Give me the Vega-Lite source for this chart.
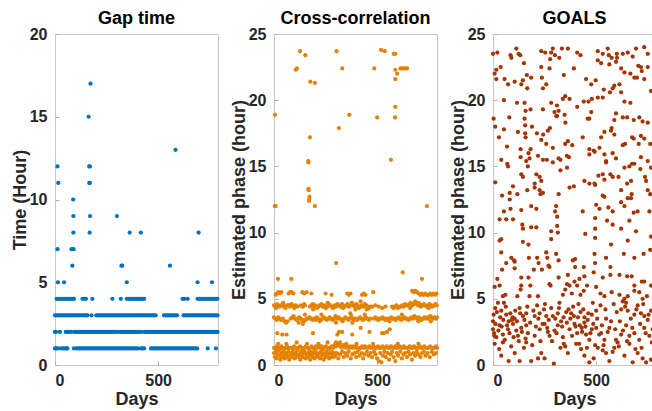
{
"$schema": "https://vega.github.io/schema/vega-lite/v6.json",
"padding": {"left": 10, "top": 9, "right": 0, "bottom": 0},
"bounds": "flush",
"spacing": 56,
"config": {
 "font": "Liberation Sans",
 "view": {"stroke": "#c8c8c8", "strokeWidth": 1},
 "axis": {"domain": false, "grid": false, "ticks": true, "tickSize": -4, "tickColor": "#b0b0b0", "labelFont": "Liberation Sans", "labelFontWeight": "bold", "labelFontSize": 16, "labelColor": "#262626", "titleFont": "Liberation Sans", "titleFontSize": 18, "titleFontWeight": "bold", "titleColor": "#262626", "labelPadding": 12, "titlePadding": 0},
 "axisX": {"labelPadding": 11, "titlePadding": 2},
 "title": {"font": "Liberation Sans", "fontSize": 18, "fontWeight": "bold", "color": "#000000", "offset": -2}
},
"datasets": {
"gap": [
{"x":8,"y":4},{"x":16,"y":4},{"x":24,"y":4},{"x":32,"y":4},{"x":40,"y":4},{"x":48,"y":4},{"x":56,"y":4},{"x":64,"y":4},{"x":72,"y":4},{"x":80,"y":4},{"x":88,"y":4},{"x":92,"y":4},{"x":133,"y":4},{"x":141,"y":4},{"x":150,"y":4},{"x":181,"y":4},{"x":278,"y":4},{"x":319,"y":4},{"x":348,"y":4},{"x":356,"y":4},{"x":364,"y":4},{"x":372,"y":4},{"x":380,"y":4},{"x":388,"y":4},{"x":396,"y":4},{"x":404,"y":4},{"x":412,"y":4},{"x":420,"y":4},{"x":428,"y":4},{"x":432,"y":4},{"x":618,"y":4},{"x":626,"y":4},{"x":643,"y":4},{"x":691,"y":4},{"x":699,"y":4},{"x":707,"y":4},{"x":715,"y":4},{"x":723,"y":4},{"x":731,"y":4},{"x":739,"y":4},{"x":747,"y":4},{"x":755,"y":4},{"x":763,"y":4},{"x":771,"y":4},{"x":779,"y":4},{"x":787,"y":4},
{"x":0,"y":3},{"x":8,"y":3},{"x":16,"y":3},{"x":24,"y":3},{"x":32,"y":3},{"x":40,"y":3},{"x":48,"y":3},{"x":56,"y":3},{"x":64,"y":3},{"x":72,"y":3},{"x":80,"y":3},{"x":88,"y":3},{"x":96,"y":3},{"x":104,"y":3},{"x":112,"y":3},{"x":120,"y":3},{"x":128,"y":3},{"x":136,"y":3},{"x":144,"y":3},{"x":152,"y":3},{"x":157,"y":3},{"x":177,"y":3},{"x":200,"y":3},{"x":208,"y":3},{"x":216,"y":3},{"x":224,"y":3},{"x":232,"y":3},{"x":240,"y":3},{"x":248,"y":3},{"x":256,"y":3},{"x":264,"y":3},{"x":272,"y":3},{"x":280,"y":3},{"x":288,"y":3},{"x":296,"y":3},{"x":304,"y":3},{"x":312,"y":3},{"x":320,"y":3},{"x":328,"y":3},{"x":336,"y":3},{"x":344,"y":3},{"x":352,"y":3},{"x":360,"y":3},{"x":368,"y":3},{"x":376,"y":3},{"x":384,"y":3},{"x":392,"y":3},{"x":400,"y":3},{"x":408,"y":3},{"x":416,"y":3},{"x":424,"y":3},{"x":432,"y":3},{"x":440,"y":3},{"x":448,"y":3},{"x":456,"y":3},{"x":464,"y":3},{"x":472,"y":3},{"x":480,"y":3},{"x":488,"y":3},{"x":528,"y":3},{"x":536,"y":3},{"x":544,"y":3},{"x":552,"y":3},{"x":560,"y":3},{"x":568,"y":3},{"x":576,"y":3},{"x":584,"y":3},{"x":592,"y":3},{"x":623,"y":3},{"x":631,"y":3},{"x":639,"y":3},{"x":647,"y":3},{"x":655,"y":3},{"x":663,"y":3},{"x":671,"y":3},{"x":679,"y":3},{"x":687,"y":3},{"x":695,"y":3},{"x":703,"y":3},{"x":711,"y":3},{"x":719,"y":3},{"x":727,"y":3},{"x":735,"y":3},{"x":743,"y":3},{"x":751,"y":3},{"x":759,"y":3},{"x":767,"y":3},{"x":775,"y":3},{"x":783,"y":3},{"x":788,"y":3},
{"x":0,"y":2},{"x":5,"y":2},{"x":24,"y":2},{"x":52,"y":2},{"x":60,"y":2},{"x":68,"y":2},{"x":76,"y":2},{"x":92,"y":2},{"x":100,"y":2},{"x":108,"y":2},{"x":116,"y":2},{"x":124,"y":2},{"x":132,"y":2},{"x":140,"y":2},{"x":148,"y":2},{"x":156,"y":2},{"x":164,"y":2},{"x":172,"y":2},{"x":180,"y":2},{"x":188,"y":2},{"x":196,"y":2},{"x":204,"y":2},{"x":212,"y":2},{"x":220,"y":2},{"x":228,"y":2},{"x":236,"y":2},{"x":244,"y":2},{"x":252,"y":2},{"x":260,"y":2},{"x":268,"y":2},{"x":276,"y":2},{"x":284,"y":2},{"x":292,"y":2},{"x":300,"y":2},{"x":314,"y":2},{"x":322,"y":2},{"x":330,"y":2},{"x":338,"y":2},{"x":346,"y":2},{"x":354,"y":2},{"x":362,"y":2},{"x":370,"y":2},{"x":378,"y":2},{"x":386,"y":2},{"x":394,"y":2},{"x":402,"y":2},{"x":410,"y":2},{"x":416,"y":2},{"x":432,"y":2},{"x":440,"y":2},{"x":448,"y":2},{"x":456,"y":2},{"x":464,"y":2},{"x":472,"y":2},{"x":480,"y":2},{"x":488,"y":2},{"x":496,"y":2},{"x":504,"y":2},{"x":512,"y":2},{"x":520,"y":2},{"x":528,"y":2},{"x":536,"y":2},{"x":544,"y":2},{"x":552,"y":2},{"x":560,"y":2},{"x":568,"y":2},{"x":576,"y":2},{"x":584,"y":2},{"x":592,"y":2},{"x":600,"y":2},{"x":608,"y":2},{"x":616,"y":2},{"x":624,"y":2},{"x":632,"y":2},{"x":640,"y":2},{"x":648,"y":2},{"x":656,"y":2},{"x":664,"y":2},{"x":672,"y":2},{"x":680,"y":2},{"x":688,"y":2},{"x":696,"y":2},{"x":704,"y":2},{"x":712,"y":2},{"x":720,"y":2},{"x":728,"y":2},{"x":736,"y":2},{"x":744,"y":2},{"x":752,"y":2},{"x":760,"y":2},{"x":768,"y":2},{"x":776,"y":2},{"x":784,"y":2},{"x":788,"y":2},
{"x":0,"y":1},{"x":8,"y":1},{"x":15,"y":1},{"x":31,"y":1},{"x":39,"y":1},{"x":47,"y":1},{"x":55,"y":1},{"x":60,"y":1},{"x":92,"y":1},{"x":105,"y":1},{"x":113,"y":1},{"x":121,"y":1},{"x":129,"y":1},{"x":137,"y":1},{"x":145,"y":1},{"x":153,"y":1},{"x":161,"y":1},{"x":169,"y":1},{"x":177,"y":1},{"x":185,"y":1},{"x":193,"y":1},{"x":201,"y":1},{"x":209,"y":1},{"x":217,"y":1},{"x":225,"y":1},{"x":233,"y":1},{"x":241,"y":1},{"x":249,"y":1},{"x":257,"y":1},{"x":265,"y":1},{"x":273,"y":1},{"x":281,"y":1},{"x":289,"y":1},{"x":297,"y":1},{"x":305,"y":1},{"x":313,"y":1},{"x":321,"y":1},{"x":329,"y":1},{"x":337,"y":1},{"x":345,"y":1},{"x":353,"y":1},{"x":361,"y":1},{"x":369,"y":1},{"x":377,"y":1},{"x":385,"y":1},{"x":393,"y":1},{"x":400,"y":1},{"x":416,"y":1},{"x":424,"y":1},{"x":432,"y":1},{"x":465,"y":1},{"x":473,"y":1},{"x":481,"y":1},{"x":489,"y":1},{"x":497,"y":1},{"x":505,"y":1},{"x":513,"y":1},{"x":521,"y":1},{"x":529,"y":1},{"x":537,"y":1},{"x":545,"y":1},{"x":553,"y":1},{"x":561,"y":1},{"x":569,"y":1},{"x":577,"y":1},{"x":585,"y":1},{"x":593,"y":1},{"x":601,"y":1},{"x":609,"y":1},{"x":617,"y":1},{"x":625,"y":1},{"x":633,"y":1},{"x":641,"y":1},{"x":649,"y":1},{"x":657,"y":1},{"x":665,"y":1},{"x":673,"y":1},{"x":681,"y":1},{"x":689,"y":1},{"x":740,"y":1},{"x":780,"y":1},
{"x":14,"y":5},{"x":44,"y":5},{"x":348,"y":5},{"x":691,"y":5},{"x":761,"y":5},{"x":12,"y":7},{"x":80,"y":7},{"x":90,"y":7},{"x":84,"y":6},{"x":322,"y":6},{"x":326,"y":6},{"x":557,"y":6},{"x":89,"y":8},{"x":168,"y":8},{"x":362,"y":8},{"x":416,"y":8},{"x":696,"y":8},{"x":89,"y":9},{"x":170,"y":9},{"x":300,"y":9},{"x":88,"y":10},{"x":16,"y":11},{"x":166,"y":11},{"x":169,"y":11},{"x":12,"y":12},{"x":166,"y":12},{"x":169,"y":12},{"x":163,"y":15},{"x":172,"y":17},{"x":584,"y":13}
],
"cc": [
{"x":126,"y":23.7},{"x":152,"y":23.4},{"x":303,"y":23.7},{"x":519,"y":23.8},{"x":537,"y":23.7},{"x":580,"y":23.5},{"x":588,"y":23.5},{"x":105,"y":22.3},{"x":111,"y":22.4},{"x":331,"y":22.4},{"x":486,"y":22.4},{"x":588,"y":22.3},{"x":597,"y":22.0},{"x":613,"y":22.4},{"x":624,"y":22.4},{"x":635,"y":22.4},{"x":645,"y":22.4},{"x":588,"y":21.6},{"x":176,"y":21.4},{"x":198,"y":21.3},{"x":588,"y":19.5},{"x":5,"y":18.9},{"x":365,"y":18.9},{"x":500,"y":18.7},{"x":587,"y":18.7},{"x":314,"y":17.9},{"x":174,"y":17.2},{"x":166,"y":15.4},{"x":167,"y":15.3},{"x":567,"y":15.5},{"x":167,"y":13.3},{"x":168,"y":13.2},{"x":172,"y":12.7},{"x":171,"y":12.5},{"x":170,"y":12.4},{"x":4,"y":12.0},{"x":8,"y":12.0},{"x":198,"y":12.0},{"x":741,"y":12.0},{"x":301,"y":7.7},{"x":19,"y":6.5},{"x":84,"y":6.5},{"x":624,"y":7.0},{"x":717,"y":6.5},
{"x":8,"y":5.3},{"x":14,"y":5.4},{"x":20,"y":5.5},{"x":28,"y":5.4},{"x":36,"y":5.5},{"x":71,"y":5.4},{"x":78,"y":5.5},{"x":86,"y":5.5},{"x":94,"y":5.4},{"x":137,"y":5.5},{"x":146,"y":5.4},{"x":158,"y":5.5},{"x":181,"y":5.4},{"x":250,"y":5.4},{"x":279,"y":5.3},{"x":355,"y":5.4},{"x":363,"y":5.3},{"x":371,"y":5.4},{"x":427,"y":5.3},{"x":435,"y":5.4},{"x":443,"y":5.3},{"x":481,"y":5.5},{"x":669,"y":5.6},{"x":677,"y":5.5},{"x":685,"y":5.6},{"x":693,"y":5.5},{"x":701,"y":5.4},{"x":709,"y":5.3},{"x":717,"y":5.4},{"x":725,"y":5.3},{"x":733,"y":5.4},{"x":741,"y":5.3},{"x":749,"y":5.3},{"x":757,"y":5.4},{"x":765,"y":5.3},{"x":773,"y":5.4},{"x":781,"y":5.3},{"x":788,"y":5.4},
{"x":0,"y":4.5},{"x":7,"y":4.4},{"x":14,"y":4.6},{"x":21,"y":4.5},{"x":28,"y":4.4},{"x":35,"y":4.5},{"x":42,"y":4.6},{"x":49,"y":4.4},{"x":56,"y":4.3},{"x":63,"y":4.5},{"x":70,"y":4.5},{"x":77,"y":4.4},{"x":84,"y":4.6},{"x":91,"y":4.5},{"x":98,"y":4.3},{"x":105,"y":4.5},{"x":113,"y":4.4},{"x":130,"y":4.5},{"x":138,"y":4.4},{"x":146,"y":4.6},{"x":150,"y":4.5},{"x":174,"y":4.4},{"x":181,"y":4.5},{"x":188,"y":4.6},{"x":195,"y":4.4},{"x":202,"y":4.5},{"x":209,"y":4.3},{"x":216,"y":4.4},{"x":223,"y":4.5},{"x":230,"y":4.6},{"x":237,"y":4.4},{"x":244,"y":4.5},{"x":251,"y":4.3},{"x":258,"y":4.4},{"x":265,"y":4.6},{"x":272,"y":4.5},{"x":279,"y":4.4},{"x":286,"y":4.3},{"x":293,"y":4.5},{"x":300,"y":4.4},{"x":307,"y":4.6},{"x":314,"y":4.5},{"x":321,"y":4.4},{"x":328,"y":4.5},{"x":335,"y":4.3},{"x":342,"y":4.4},{"x":349,"y":4.5},{"x":356,"y":4.6},{"x":363,"y":4.4},{"x":370,"y":4.5},{"x":377,"y":4.7},{"x":384,"y":4.5},{"x":391,"y":4.4},{"x":398,"y":4.6},{"x":405,"y":4.5},{"x":412,"y":4.3},{"x":419,"y":4.4},{"x":426,"y":4.5},{"x":433,"y":4.4},{"x":440,"y":4.6},{"x":447,"y":4.5},{"x":454,"y":4.4},{"x":461,"y":4.3},{"x":468,"y":4.4},{"x":476,"y":4.4},{"x":492,"y":4.5},{"x":508,"y":4.4},{"x":524,"y":4.3},{"x":540,"y":4.4},{"x":572,"y":4.4},{"x":579,"y":4.3},{"x":586,"y":4.4},{"x":593,"y":4.5},{"x":600,"y":4.3},{"x":607,"y":4.4},{"x":614,"y":4.4},{"x":621,"y":4.5},{"x":628,"y":4.4},{"x":635,"y":4.6},{"x":642,"y":4.5},{"x":649,"y":4.5},{"x":656,"y":4.6},{"x":663,"y":4.7},{"x":670,"y":4.5},{"x":677,"y":4.6},{"x":684,"y":4.8},{"x":691,"y":4.6},{"x":698,"y":4.5},{"x":705,"y":4.6},{"x":712,"y":4.4},{"x":719,"y":4.5},{"x":726,"y":4.6},{"x":733,"y":4.5},{"x":740,"y":4.4},{"x":747,"y":4.5},{"x":754,"y":4.6},{"x":761,"y":4.5},{"x":768,"y":4.4},{"x":775,"y":4.5},{"x":782,"y":4.6},{"x":789,"y":4.5},{"x":10,"y":4.3},{"x":45,"y":4.7},{"x":190,"y":4.2},{"x":260,"y":4.7},{"x":330,"y":4.6},{"x":395,"y":4.2},{"x":420,"y":4.8},{"x":450,"y":4.2},{"x":660,"y":4.3},{"x":700,"y":4.7},{"x":750,"y":4.3},
{"x":0,"y":3.6},{"x":7,"y":3.5},{"x":14,"y":3.4},{"x":21,"y":3.6},{"x":28,"y":3.5},{"x":35,"y":3.4},{"x":43,"y":3.5},{"x":52,"y":3.3},{"x":58,"y":3.2},{"x":65,"y":3.3},{"x":81,"y":3.5},{"x":88,"y":3.6},{"x":95,"y":3.7},{"x":102,"y":3.5},{"x":109,"y":3.4},{"x":116,"y":3.5},{"x":123,"y":3.6},{"x":130,"y":3.5},{"x":137,"y":3.4},{"x":144,"y":3.3},{"x":151,"y":3.4},{"x":158,"y":3.5},{"x":165,"y":3.5},{"x":172,"y":3.6},{"x":179,"y":3.5},{"x":186,"y":3.4},{"x":193,"y":3.5},{"x":200,"y":3.4},{"x":207,"y":3.6},{"x":214,"y":3.5},{"x":221,"y":3.3},{"x":228,"y":3.4},{"x":235,"y":3.5},{"x":242,"y":3.6},{"x":249,"y":3.5},{"x":256,"y":3.4},{"x":263,"y":3.5},{"x":270,"y":3.6},{"x":277,"y":3.5},{"x":284,"y":3.4},{"x":291,"y":3.5},{"x":298,"y":3.7},{"x":305,"y":3.5},{"x":312,"y":3.6},{"x":319,"y":3.5},{"x":326,"y":3.4},{"x":333,"y":3.3},{"x":340,"y":3.5},{"x":347,"y":3.6},{"x":354,"y":3.5},{"x":361,"y":3.4},{"x":368,"y":3.5},{"x":375,"y":3.7},{"x":382,"y":3.5},{"x":389,"y":3.4},{"x":396,"y":3.5},{"x":403,"y":3.4},{"x":410,"y":3.5},{"x":417,"y":3.6},{"x":424,"y":3.5},{"x":431,"y":3.4},{"x":438,"y":3.5},{"x":445,"y":3.6},{"x":452,"y":3.5},{"x":459,"y":3.4},{"x":466,"y":3.5},{"x":484,"y":3.5},{"x":491,"y":3.6},{"x":498,"y":3.5},{"x":505,"y":3.4},{"x":512,"y":3.5},{"x":519,"y":3.5},{"x":526,"y":3.6},{"x":533,"y":3.5},{"x":540,"y":3.4},{"x":547,"y":3.5},{"x":554,"y":3.4},{"x":561,"y":3.5},{"x":568,"y":3.6},{"x":575,"y":3.5},{"x":582,"y":3.5},{"x":589,"y":3.4},{"x":596,"y":3.5},{"x":603,"y":3.6},{"x":610,"y":3.5},{"x":617,"y":3.4},{"x":624,"y":3.5},{"x":631,"y":3.6},{"x":638,"y":3.5},{"x":645,"y":3.5},{"x":652,"y":3.4},{"x":659,"y":3.5},{"x":666,"y":3.6},{"x":673,"y":3.5},{"x":680,"y":3.7},{"x":687,"y":3.6},{"x":694,"y":3.5},{"x":701,"y":3.6},{"x":708,"y":3.5},{"x":715,"y":3.4},{"x":722,"y":3.5},{"x":729,"y":3.6},{"x":736,"y":3.5},{"x":743,"y":3.6},{"x":750,"y":3.5},{"x":757,"y":3.7},{"x":764,"y":3.6},{"x":771,"y":3.5},{"x":778,"y":3.6},{"x":785,"y":3.5},{"x":790,"y":3.6},{"x":120,"y":3.2},{"x":150,"y":3.8},{"x":230,"y":3.8},{"x":300,"y":3.2},{"x":370,"y":3.9},{"x":380,"y":3.2},{"x":440,"y":3.8},{"x":560,"y":3.3},{"x":620,"y":3.8},{"x":700,"y":3.3},{"x":760,"y":3.3},
{"x":16,"y":2.4},{"x":40,"y":2.3},{"x":61,"y":2.3},{"x":140,"y":3.1},{"x":189,"y":2.4},{"x":307,"y":2.3},{"x":315,"y":2.5},{"x":331,"y":2.5},{"x":379,"y":2.3},{"x":420,"y":2.8},{"x":463,"y":2.5},{"x":524,"y":2.4},{"x":532,"y":2.4},{"x":548,"y":2.5},{"x":561,"y":2.7},
{"x":0,"y":1.3},{"x":7,"y":1.2},{"x":14,"y":1.4},{"x":21,"y":1.3},{"x":28,"y":1.2},{"x":35,"y":1.4},{"x":42,"y":1.3},{"x":49,"y":1.2},{"x":56,"y":1.3},{"x":63,"y":1.4},{"x":70,"y":1.2},{"x":77,"y":1.3},{"x":84,"y":1.3},{"x":91,"y":1.2},{"x":98,"y":1.4},{"x":105,"y":1.3},{"x":112,"y":1.2},{"x":119,"y":1.3},{"x":126,"y":1.4},{"x":133,"y":1.3},{"x":140,"y":1.2},{"x":147,"y":1.3},{"x":154,"y":1.4},{"x":161,"y":1.3},{"x":168,"y":1.2},{"x":175,"y":1.3},{"x":182,"y":1.4},{"x":189,"y":1.3},{"x":196,"y":1.2},{"x":203,"y":1.4},{"x":210,"y":1.3},{"x":217,"y":1.5},{"x":224,"y":1.3},{"x":231,"y":1.4},{"x":238,"y":1.2},{"x":245,"y":1.3},{"x":252,"y":1.4},{"x":259,"y":1.3},{"x":266,"y":1.2},{"x":273,"y":1.3},{"x":280,"y":1.4},{"x":287,"y":1.3},{"x":294,"y":1.5},{"x":301,"y":1.4},{"x":308,"y":1.6},{"x":315,"y":1.5},{"x":322,"y":1.4},{"x":329,"y":1.3},{"x":336,"y":1.5},{"x":343,"y":1.4},{"x":350,"y":1.3},{"x":357,"y":1.4},{"x":364,"y":1.3},{"x":371,"y":1.4},{"x":378,"y":1.3},{"x":385,"y":1.4},{"x":392,"y":1.3},{"x":399,"y":1.4},{"x":406,"y":1.3},{"x":413,"y":1.2},{"x":420,"y":1.3},{"x":427,"y":1.4},{"x":434,"y":1.3},{"x":441,"y":1.4},{"x":448,"y":1.3},{"x":455,"y":1.3},{"x":462,"y":1.4},{"x":469,"y":1.3},{"x":476,"y":1.3},{"x":483,"y":1.4},{"x":490,"y":1.3},{"x":497,"y":1.3},{"x":504,"y":1.4},{"x":511,"y":1.3},{"x":518,"y":1.3},{"x":525,"y":1.4},{"x":532,"y":1.3},{"x":539,"y":1.3},{"x":546,"y":1.4},{"x":553,"y":1.3},{"x":560,"y":1.3},{"x":567,"y":1.4},{"x":574,"y":1.3},{"x":581,"y":1.3},{"x":588,"y":1.4},{"x":595,"y":1.3},{"x":602,"y":1.3},{"x":609,"y":1.4},{"x":616,"y":1.3},{"x":623,"y":1.3},{"x":630,"y":1.4},{"x":637,"y":1.3},{"x":644,"y":1.3},{"x":651,"y":1.3},{"x":658,"y":1.4},{"x":665,"y":1.3},{"x":672,"y":1.3},{"x":679,"y":1.4},{"x":686,"y":1.3},{"x":693,"y":1.3},{"x":700,"y":1.3},{"x":707,"y":1.4},{"x":714,"y":1.3},{"x":721,"y":1.3},{"x":728,"y":1.4},{"x":735,"y":1.3},{"x":742,"y":1.3},{"x":749,"y":1.3},{"x":756,"y":1.4},{"x":763,"y":1.3},{"x":770,"y":1.3},{"x":777,"y":1.3},{"x":784,"y":1.4},{"x":790,"y":1.3},
{"x":0,"y":0.9},{"x":4,"y":0.6},{"x":10,"y":1.0},{"x":13,"y":0.5},{"x":18,"y":0.8},{"x":22,"y":1.1},{"x":26,"y":0.7},{"x":31,"y":0.4},{"x":35,"y":0.9},{"x":39,"y":0.6},{"x":44,"y":1.0},{"x":48,"y":0.7},{"x":52,"y":0.5},{"x":57,"y":0.9},{"x":61,"y":0.8},{"x":66,"y":0.6},{"x":70,"y":1.0},{"x":74,"y":0.4},{"x":79,"y":0.7},{"x":83,"y":0.9},{"x":88,"y":0.6},{"x":92,"y":1.0},{"x":96,"y":0.8},{"x":101,"y":0.5},{"x":105,"y":0.9},{"x":110,"y":0.7},{"x":114,"y":1.1},{"x":118,"y":0.6},{"x":123,"y":0.8},{"x":127,"y":0.4},{"x":132,"y":1.0},{"x":136,"y":0.7},{"x":140,"y":0.6},{"x":145,"y":0.9},{"x":149,"y":1.0},{"x":153,"y":0.5},{"x":158,"y":0.8},{"x":162,"y":0.6},{"x":167,"y":0.9},{"x":171,"y":0.7},{"x":175,"y":0.4},{"x":180,"y":1.0},{"x":184,"y":0.8},{"x":188,"y":0.6},{"x":193,"y":0.9},{"x":197,"y":0.5},{"x":202,"y":1.0},{"x":206,"y":0.7},{"x":210,"y":0.8},{"x":215,"y":0.6},{"x":219,"y":0.9},{"x":224,"y":0.5},{"x":228,"y":1.0},{"x":232,"y":0.7},{"x":237,"y":0.8},{"x":241,"y":0.4},{"x":246,"y":0.9},{"x":250,"y":0.6},{"x":254,"y":1.0},{"x":259,"y":0.7},{"x":263,"y":0.8},{"x":268,"y":0.5},{"x":272,"y":0.9},{"x":276,"y":0.6},{"x":281,"y":1.0},{"x":285,"y":0.8},{"x":290,"y":0.6},{"x":294,"y":0.9},{"x":298,"y":0.7},
{"x":20,"y":1.6},{"x":60,"y":1.6},{"x":110,"y":1.7},{"x":160,"y":1.6},{"x":215,"y":1.6},{"x":260,"y":1.7},{"x":300,"y":1.7},{"x":320,"y":1.7},{"x":350,"y":1.6},{"x":400,"y":1.6},{"x":480,"y":1.6},{"x":600,"y":1.6},{"x":700,"y":1.6},
{"x":305,"y":0.9},{"x":312,"y":0.5},{"x":320,"y":0.8},{"x":330,"y":1.0},{"x":338,"y":0.6},{"x":345,"y":0.9},{"x":355,"y":0.7},{"x":362,"y":1.0},{"x":372,"y":0.5},{"x":380,"y":0.8},{"x":390,"y":0.9},{"x":398,"y":0.6},{"x":405,"y":1.0},{"x":415,"y":0.7},{"x":425,"y":0.9},{"x":432,"y":0.5},{"x":440,"y":0.8},{"x":450,"y":1.0},{"x":458,"y":0.7},{"x":468,"y":0.9},{"x":475,"y":0.6},{"x":485,"y":1.0},{"x":492,"y":0.8},{"x":500,"y":0.5},{"x":508,"y":0.3},{"x":515,"y":0.9},{"x":520,"y":0.2},{"x":528,"y":0.7},{"x":535,"y":1.0},{"x":542,"y":0.6},{"x":550,"y":0.9},{"x":558,"y":0.4},{"x":565,"y":0.8},{"x":572,"y":1.0},{"x":580,"y":0.6},{"x":588,"y":0.3},{"x":595,"y":0.9},{"x":602,"y":0.7},{"x":612,"y":1.0},{"x":620,"y":0.5},{"x":628,"y":0.8},{"x":636,"y":0.9},{"x":645,"y":0.6},{"x":652,"y":1.0},{"x":660,"y":0.8},{"x":668,"y":0.4},{"x":676,"y":0.9},{"x":684,"y":0.7},{"x":692,"y":1.0},{"x":700,"y":0.8},{"x":710,"y":0.6},{"x":718,"y":0.9},{"x":726,"y":1.0},{"x":735,"y":0.7},{"x":745,"y":0.9},{"x":755,"y":0.6},{"x":765,"y":1.0},{"x":775,"y":0.8},{"x":785,"y":0.9}
],
"goals": [
{"x":0,"y":23.5},{"x":21,"y":23.6},{"x":89,"y":23.2},{"x":85,"y":23.4},{"x":113,"y":23.9},{"x":124,"y":23.5},{"x":132,"y":23.4},{"x":234,"y":23.7},{"x":253,"y":23.6},{"x":282,"y":23.6},{"x":290,"y":23.9},{"x":300,"y":23.4},{"x":321,"y":23.2},{"x":334,"y":23.9},{"x":363,"y":23.9},{"x":408,"y":23.6},{"x":424,"y":23.4},{"x":508,"y":23.7},{"x":532,"y":23.5},{"x":556,"y":23.9},{"x":561,"y":23.4},{"x":575,"y":23.2},{"x":600,"y":23.5},{"x":601,"y":23.2},{"x":629,"y":23.5},{"x":653,"y":23.6},{"x":677,"y":23.3},{"x":693,"y":23.9},{"x":733,"y":24.0},{"x":750,"y":23.5},
{"x":16,"y":22.3},{"x":37,"y":22.5},{"x":8,"y":22.0},{"x":150,"y":22.8},{"x":234,"y":22.5},{"x":277,"y":23.1},{"x":274,"y":22.4},{"x":392,"y":22.4},{"x":508,"y":23.0},{"x":524,"y":22.8},{"x":564,"y":22.7},{"x":596,"y":22.9},{"x":621,"y":22.4},{"x":637,"y":22.1},{"x":666,"y":22.0},{"x":704,"y":22.6},{"x":717,"y":22.5},{"x":721,"y":22.2},{"x":750,"y":22.5},
{"x":16,"y":21.6},{"x":56,"y":21.6},{"x":73,"y":21.2},{"x":105,"y":21.4},{"x":137,"y":21.2},{"x":145,"y":21.5},{"x":164,"y":21.9},{"x":166,"y":20.9},{"x":185,"y":21.7},{"x":237,"y":21.7},{"x":242,"y":20.9},{"x":258,"y":21.2},{"x":343,"y":21.9},{"x":451,"y":21.6},{"x":476,"y":21.2},{"x":498,"y":21.5},{"x":567,"y":20.6},{"x":580,"y":20.9},{"x":588,"y":21.1},{"x":613,"y":21.2},{"x":621,"y":20.6},{"x":685,"y":21.7},{"x":698,"y":21.7},{"x":733,"y":21.6},{"x":766,"y":20.7},
{"x":53,"y":20.0},{"x":116,"y":19.8},{"x":153,"y":19.8},{"x":158,"y":19.2},{"x":182,"y":19.3},{"x":242,"y":19.3},{"x":282,"y":19.8},{"x":298,"y":19.1},{"x":310,"y":19.6},{"x":318,"y":19.2},{"x":350,"y":20.3},{"x":339,"y":20.1},{"x":371,"y":20.1},{"x":408,"y":19.5},{"x":440,"y":19.9},{"x":463,"y":19.9},{"x":479,"y":20.1},{"x":508,"y":20.2},{"x":532,"y":20.2},{"x":467,"y":18.6},{"x":476,"y":19.1},{"x":537,"y":20.8},{"x":637,"y":19.9},{"x":666,"y":19.8},
{"x":3,"y":18.6},{"x":11,"y":18.0},{"x":53,"y":17.8},{"x":79,"y":18.7},{"x":153,"y":18.6},{"x":156,"y":18.1},{"x":189,"y":18.0},{"x":266,"y":17.7},{"x":276,"y":17.9},{"x":306,"y":18.8},{"x":311,"y":18.8},{"x":347,"y":18.9},{"x":351,"y":18.3},{"x":459,"y":18.6},{"x":540,"y":17.6},{"x":575,"y":17.9},{"x":588,"y":18.5},{"x":596,"y":19.0},{"x":629,"y":18.7},{"x":650,"y":18.7},{"x":682,"y":18.5},{"x":709,"y":18.7},{"x":725,"y":18.4},{"x":750,"y":18.3},
{"x":29,"y":17.2},{"x":68,"y":16.5},{"x":121,"y":17.6},{"x":134,"y":16.3},{"x":156,"y":17.5},{"x":158,"y":17.2},{"x":182,"y":16.3},{"x":213,"y":17.5},{"x":234,"y":17.0},{"x":243,"y":17.4},{"x":258,"y":16.7},{"x":290,"y":16.4},{"x":350,"y":16.7},{"x":363,"y":16.9},{"x":384,"y":16.6},{"x":435,"y":17.2},{"x":467,"y":16.3},{"x":488,"y":16.2},{"x":516,"y":16.4},{"x":524,"y":17.2},{"x":572,"y":17.7},{"x":588,"y":17.4},{"x":629,"y":16.6},{"x":640,"y":16.7},{"x":674,"y":17.2},{"x":682,"y":17.1},{"x":706,"y":16.7},{"x":717,"y":17.3},{"x":733,"y":17.1},{"x":762,"y":16.7},
{"x":40,"y":15.5},{"x":73,"y":15.0},{"x":69,"y":15.2},{"x":134,"y":15.7},{"x":161,"y":15.4},{"x":172,"y":16.0},{"x":177,"y":15.6},{"x":218,"y":15.8},{"x":242,"y":15.5},{"x":261,"y":15.5},{"x":290,"y":15.3},{"x":318,"y":15.6},{"x":327,"y":15.5},{"x":358,"y":15.8},{"x":368,"y":15.7},{"x":359,"y":14.9},{"x":467,"y":15.9},{"x":493,"y":16.1},{"x":540,"y":15.9},{"x":548,"y":15.4},{"x":580,"y":16.0},{"x":596,"y":15.6},{"x":548,"y":15.3},{"x":661,"y":15.0},{"x":674,"y":15.2},{"x":685,"y":15.2},{"x":717,"y":15.7},{"x":750,"y":15.4},{"x":766,"y":14.9},
{"x":11,"y":13.8},{"x":97,"y":13.5},{"x":137,"y":14.4},{"x":145,"y":14.2},{"x":169,"y":15.0},{"x":210,"y":14.4},{"x":226,"y":14.2},{"x":202,"y":13.7},{"x":234,"y":13.9},{"x":327,"y":14.7},{"x":443,"y":13.9},{"x":467,"y":13.7},{"x":492,"y":13.7},{"x":511,"y":14.3},{"x":532,"y":14.4},{"x":540,"y":14.0},{"x":569,"y":14.4},{"x":580,"y":14.2},{"x":608,"y":14.2},{"x":637,"y":14.9},{"x":650,"y":13.7},{"x":669,"y":13.9},{"x":714,"y":14.8},{"x":742,"y":13.9},{"x":737,"y":14.2},
{"x":44,"y":12.8},{"x":81,"y":13.0},{"x":118,"y":12.9},{"x":166,"y":13.2},{"x":202,"y":13.4},{"x":226,"y":13.2},{"x":230,"y":12.9},{"x":242,"y":13.0},{"x":318,"y":12.9},{"x":371,"y":13.4},{"x":392,"y":13.5},{"x":495,"y":13.6},{"x":532,"y":12.8},{"x":621,"y":13.2},{"x":672,"y":12.9},{"x":750,"y":13.2},{"x":762,"y":12.9},
{"x":81,"y":12.5},{"x":85,"y":11.8},{"x":53,"y":11.6},{"x":137,"y":11.7},{"x":185,"y":12.0},{"x":210,"y":11.8},{"x":306,"y":12.0},{"x":301,"y":11.6},{"x":311,"y":11.2},{"x":435,"y":11.6},{"x":500,"y":12.1},{"x":516,"y":11.8},{"x":540,"y":12.7},{"x":559,"y":11.9},{"x":580,"y":11.6},{"x":621,"y":12.3},{"x":637,"y":12.0},{"x":653,"y":12.6},{"x":669,"y":12.6},{"x":682,"y":11.5},{"x":701,"y":11.6},{"x":758,"y":11.6},
{"x":32,"y":11.0},{"x":64,"y":11.0},{"x":97,"y":11.0},{"x":142,"y":10.6},{"x":145,"y":10.3},{"x":185,"y":10.4},{"x":210,"y":10.4},{"x":282,"y":10.1},{"x":282,"y":9.5},{"x":311,"y":10.5},{"x":314,"y":10.0},{"x":447,"y":9.9},{"x":495,"y":11.1},{"x":495,"y":10.3},{"x":495,"y":9.6},{"x":553,"y":10.9},{"x":580,"y":10.6},{"x":621,"y":10.3},{"x":661,"y":10.9},{"x":693,"y":10.1},{"x":766,"y":9.7},{"x":40,"y":9.5},{"x":32,"y":9.4},{"x":145,"y":9.3},{"x":172,"y":9.1},
{"x":40,"y":8.5},{"x":64,"y":7.7},{"x":89,"y":8.1},{"x":102,"y":7.9},{"x":105,"y":7.8},{"x":174,"y":8.1},{"x":214,"y":8.1},{"x":221,"y":7.7},{"x":258,"y":8.5},{"x":263,"y":8.1},{"x":274,"y":7.4},{"x":306,"y":8.4},{"x":318,"y":7.9},{"x":387,"y":7.9},{"x":398,"y":8.0},{"x":440,"y":7.4},{"x":492,"y":8.4},{"x":495,"y":7.7},{"x":548,"y":8.1},{"x":572,"y":9.1},{"x":634,"y":8.4},{"x":653,"y":9.4},{"x":685,"y":8.1},{"x":730,"y":8.4},{"x":762,"y":8.7},
{"x":21,"y":6.5},{"x":44,"y":7.2},{"x":105,"y":7.3},{"x":137,"y":6.6},{"x":172,"y":6.6},{"x":198,"y":7.2},{"x":237,"y":7.2},{"x":269,"y":7.5},{"x":318,"y":6.6},{"x":363,"y":6.8},{"x":398,"y":7.4},{"x":419,"y":6.5},{"x":443,"y":6.7},{"x":488,"y":7.0},{"x":532,"y":6.6},{"x":569,"y":7.4},{"x":569,"y":6.8},{"x":613,"y":6.8},{"x":650,"y":6.7},{"x":672,"y":6.7},{"x":721,"y":6.3},{"x":733,"y":6.3},{"x":685,"y":6.0},{"x":766,"y":6.0},
{"x":8,"y":5.9},{"x":32,"y":6.0},{"x":48,"y":5.2},{"x":60,"y":5.3},{"x":118,"y":5.2},{"x":134,"y":5.7},{"x":137,"y":6.0},{"x":177,"y":5.2},{"x":181,"y":6.0},{"x":218,"y":5.2},{"x":274,"y":6.1},{"x":279,"y":6.0},{"x":322,"y":4.7},{"x":339,"y":5.3},{"x":350,"y":5.7},{"x":359,"y":6.1},{"x":371,"y":6.0},{"x":382,"y":5.4},{"x":395,"y":6.3},{"x":408,"y":6.0},{"x":424,"y":5.3},{"x":440,"y":5.6},{"x":456,"y":6.0},{"x":484,"y":4.7},{"x":500,"y":5.9},{"x":521,"y":5.4},{"x":540,"y":5.2},{"x":575,"y":5.5},{"x":613,"y":5.3},{"x":629,"y":4.8},{"x":637,"y":5.0},{"x":645,"y":4.7},{"x":653,"y":5.2},{"x":685,"y":5.6},{"x":709,"y":5.5},{"x":725,"y":5.0},{"x":746,"y":5.2},
{"x":0,"y":3.3},{"x":11,"y":4.3},{"x":24,"y":4.7},{"x":40,"y":4.1},{"x":53,"y":4.7},{"x":64,"y":3.8},{"x":76,"y":3.3},{"x":92,"y":3.4},{"x":105,"y":3.5},{"x":129,"y":4.3},{"x":145,"y":3.7},{"x":161,"y":3.9},{"x":202,"y":3.7},{"x":214,"y":4.5},{"x":226,"y":3.9},{"x":247,"y":4.2},{"x":258,"y":3.7},{"x":282,"y":4.3},{"x":290,"y":3.7},{"x":314,"y":3.9},{"x":330,"y":3.3},{"x":355,"y":4.0},{"x":366,"y":4.2},{"x":379,"y":3.9},{"x":392,"y":3.7},{"x":414,"y":4.6},{"x":424,"y":4.0},{"x":443,"y":3.6},{"x":459,"y":3.4},{"x":479,"y":3.8},{"x":500,"y":4.1},{"x":521,"y":4.5},{"x":548,"y":3.5},{"x":585,"y":4.6},{"x":621,"y":4.2},{"x":653,"y":4.1},{"x":685,"y":3.8},{"x":701,"y":4.5},{"x":717,"y":3.9},{"x":733,"y":3.7},{"x":750,"y":3.4},{"x":766,"y":4.1},
{"x":0,"y":2.7},{"x":5,"y":2.4},{"x":16,"y":2.1},{"x":32,"y":3.0},{"x":48,"y":2.3},{"x":73,"y":2.7},{"x":97,"y":3.1},{"x":113,"y":2.6},{"x":121,"y":2.2},{"x":137,"y":2.8},{"x":161,"y":3.0},{"x":169,"y":2.4},{"x":202,"y":2.2},{"x":226,"y":2.7},{"x":250,"y":3.1},{"x":263,"y":2.8},{"x":274,"y":2.2},{"x":298,"y":2.6},{"x":314,"y":3.0},{"x":339,"y":2.1},{"x":371,"y":2.7},{"x":395,"y":3.1},{"x":408,"y":2.4},{"x":430,"y":2.8},{"x":443,"y":3.2},{"x":451,"y":2.3},{"x":467,"y":1.9},{"x":479,"y":2.7},{"x":500,"y":2.8},{"x":524,"y":2.4},{"x":540,"y":1.9},{"x":564,"y":2.8},{"x":596,"y":1.9},{"x":621,"y":2.3},{"x":645,"y":3.0},{"x":661,"y":2.2},{"x":685,"y":2.4},{"x":709,"y":1.9},{"x":733,"y":2.8},{"x":758,"y":2.2},{"x":774,"y":2.7},
{"x":8,"y":1.6},{"x":40,"y":0.7},{"x":48,"y":1.7},{"x":76,"y":0.3},{"x":105,"y":0.9},{"x":129,"y":0.3},{"x":150,"y":1.3},{"x":161,"y":1.7},{"x":185,"y":0.3},{"x":218,"y":0.5},{"x":234,"y":0.9},{"x":250,"y":0.5},{"x":295,"y":0.1},{"x":327,"y":1.3},{"x":343,"y":1.6},{"x":363,"y":0.9},{"x":403,"y":1.6},{"x":427,"y":1.2},{"x":443,"y":0.7},{"x":467,"y":0.2},{"x":488,"y":0.5},{"x":508,"y":1.3},{"x":532,"y":1.1},{"x":548,"y":0.9},{"x":564,"y":0.3},{"x":588,"y":1.3},{"x":604,"y":1.7},{"x":637,"y":0.7},{"x":661,"y":1.6},{"x":677,"y":0.2},{"x":701,"y":0.9},{"x":725,"y":0.5},{"x":742,"y":0.2},{"x":766,"y":0.4},
{"x":3,"y":3.8},{"x":6,"y":2.2},{"x":12,"y":3.1},{"x":19,"y":4.0},{"x":26,"y":2.6},{"x":30,"y":1.2},{"x":35,"y":3.6},{"x":42,"y":2.9},{"x":50,"y":3.4},{"x":57,"y":1.9},{"x":62,"y":4.4},{"x":68,"y":3.0},{"x":80,"y":2.4},{"x":84,"y":3.9},{"x":88,"y":1.4},{"x":95,"y":3.6},{"x":100,"y":2.1},{"x":108,"y":4.1},{"x":116,"y":3.3},{"x":125,"y":1.8},{"x":132,"y":3.9},{"x":140,"y":2.5},{"x":152,"y":3.4},{"x":158,"y":2.0},{"x":166,"y":4.4},{"x":180,"y":3.2},{"x":190,"y":1.5},{"x":196,"y":4.1},{"x":208,"y":2.9},{"x":220,"y":3.5},{"x":230,"y":1.8},{"x":240,"y":3.1},{"x":252,"y":4.6},{"x":266,"y":2.5},{"x":270,"y":3.4},{"x":286,"y":1.8},{"x":302,"y":3.5},{"x":308,"y":2.4},{"x":320,"y":4.3},{"x":335,"y":2.9},{"x":342,"y":3.6},{"x":350,"y":1.4},{"x":358,"y":3.2},{"x":375,"y":3.5},{"x":383,"y":2.2},{"x":388,"y":4.4},{"x":400,"y":2.9},{"x":412,"y":3.6},{"x":418,"y":1.6},{"x":420,"y":3.0},{"x":432,"y":2.5},{"x":438,"y":4.2},{"x":448,"y":2.9},{"x":455,"y":1.3},{"x":462,"y":3.9},{"x":472,"y":2.4},{"x":486,"y":3.1},{"x":495,"y":1.5},{"x":505,"y":3.5},{"x":515,"y":2.3},{"x":528,"y":3.0},{"x":536,"y":1.5},{"x":545,"y":4.2},{"x":556,"y":2.5},{"x":572,"y":3.3},{"x":580,"y":1.0},{"x":592,"y":2.7},{"x":600,"y":4.0},{"x":610,"y":1.4},{"x":615,"y":3.3},{"x":630,"y":2.6},{"x":640,"y":4.4},{"x":650,"y":1.8},{"x":668,"y":3.5},{"x":675,"y":2.8},{"x":690,"y":1.2},{"x":695,"y":4.2},{"x":713,"y":3.1},{"x":720,"y":1.3},{"x":728,"y":4.6},{"x":740,"y":2.4},{"x":754,"y":3.8},{"x":770,"y":1.7},{"x":780,"y":3.3}
]
},
"hconcat": [
 {"width": 163, "height": 331, "title": "Gap time", "data": {"name": "gap"},
  "mark": {"type": "circle", "size": 18, "opacity": 1, "color": "#0072BD"},
  "encoding": {
   "x": {"field": "x", "type": "quantitative", "scale": {"domain": [0, 790], "nice": false}, "axis": {"values": [0, 500], "title": "Days"}},
   "y": {"field": "y", "type": "quantitative", "scale": {"domain": [0, 20], "nice": false}, "axis": {"values": [0, 5, 10, 15, 20], "title": "Time (Hour)"}}}},
 {"width": 163, "height": 331, "title": "Cross-correlation", "data": {"name": "cc"},
  "mark": {"type": "circle", "size": 18, "opacity": 1, "color": "#E58200"},
  "encoding": {
   "x": {"field": "x", "type": "quantitative", "scale": {"domain": [0, 790], "nice": false}, "axis": {"values": [0, 500], "title": "Days"}},
   "y": {"field": "y", "type": "quantitative", "scale": {"domain": [0, 25], "nice": false}, "axis": {"values": [0, 5, 10, 15, 20, 25], "title": "Estimated phase (hour)"}}}},
 {"width": 163, "height": 331, "title": "GOALS", "data": {"name": "goals"},
  "mark": {"type": "circle", "size": 18, "opacity": 1, "color": "#A33505"},
  "encoding": {
   "x": {"field": "x", "type": "quantitative", "scale": {"domain": [0, 790], "nice": false}, "axis": {"values": [0, 500], "title": "Days"}},
   "y": {"field": "y", "type": "quantitative", "scale": {"domain": [0, 25], "nice": false}, "axis": {"values": [0, 5, 10, 15, 20, 25], "title": "Estimated phase (hour)"}}}}
]
}
